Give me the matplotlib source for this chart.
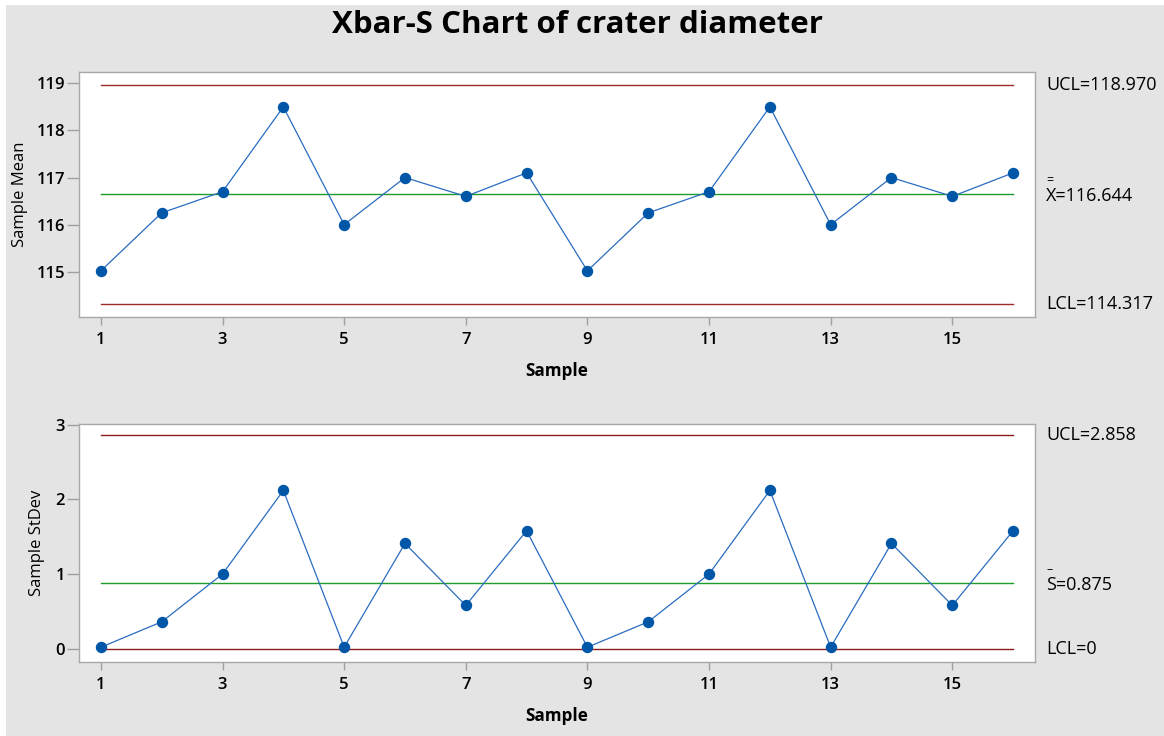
import matplotlib
matplotlib.use("Agg")
import matplotlib.pyplot as plt
from matplotlib.patches import Rectangle

samples = list(range(1, 17))
means = [115.02, 116.25, 116.7, 118.5, 116.0, 117.0, 116.6, 117.1,
         115.02, 116.25, 116.7, 118.5, 116.0, 117.0, 116.6, 117.1]
stdevs = [0.02, 0.36, 1.0, 2.12, 0.02, 1.41, 0.58, 1.58,
          0.02, 0.36, 1.0, 2.12, 0.02, 1.41, 0.58, 1.58]
mean_ucl, mean_cl, mean_lcl = 118.970, 116.644, 114.317
sd_ucl, sd_cl, sd_lcl = 2.858, 0.875, 0.0
xticks = [1, 3, 5, 7, 9, 11, 13, 15]
title = "Xbar-S Chart of crater diameter"

plt.rcParams['font.family'] = ['Open Sans', 'DejaVu Sans']

W, H = 1164, 736
fig = plt.figure(figsize=(W / 100, H / 100), dpi=100)
fig.patch.set_facecolor('white')
fig.patches.append(Rectangle((6 / W, 0), 1, 1 - 5 / H, transform=fig.transFigure,
                             facecolor='#e4e4e4', edgecolor='none', zorder=-10))

def fx(px):
    return px / W

def fy(py):
    return 1 - py / H

ax1 = fig.add_axes([fx(79), fy(317), fx(1035) - fx(79), fy(72) - fy(317)])
ax2 = fig.add_axes([fx(79), fy(662), fx(1035) - fx(79), fy(424) - fy(662)])

fig.text(fx(577.5), fy(25), title, ha='center', va='center', fontsize=22.5, fontweight='bold')

line_blue = '#2a6cc0'
mark_blue = '#0057a8'
red = '#9e2a2a'
green = '#1e9b2a'

def style(ax, ylim, yticks, ylabel, ylabel_x):
    ax.set_facecolor('white')
    for s in ax.spines.values():
        s.set_color('#a8a8a8')
        s.set_linewidth(1.0)
    ax.set_xlim(0.64, 16.36)
    ax.set_ylim(*ylim)
    ax.set_xticks(xticks)
    ax.set_yticks(yticks)
    ax.tick_params(axis='x', colors='#a0a0a0', length=6, width=1, pad=5,
                   labelcolor='black', labelsize=12)
    ax.tick_params(axis='y', colors='#a0a0a0', length=9, width=1, pad=1,
                   labelcolor='black', labelsize=12)
    for lab in ax.get_xticklabels() + ax.get_yticklabels():
        lab.set_fontweight('semibold')
    ax.set_xlabel('Sample', fontsize=12.3, fontweight='bold', labelpad=10)
    ax.set_ylabel(ylabel, fontsize=12)
    ax.yaxis.set_label_coords(ylabel_x, 0.5)

style(ax1, (114.04, 119.24), [115, 116, 117, 118, 119], 'Sample Mean', (28 - 79) / 956)
style(ax2, (-0.178, 3.01), [0, 1, 2, 3], 'Sample StDev', (45 - 79) / 956)

for ax, vals, ucl, cl, lcl, ucl_col in [
        (ax1, means, mean_ucl, mean_cl, mean_lcl, red),
        (ax2, stdevs, sd_ucl, sd_cl, sd_lcl, '#8b1a1a')]:
    ax.plot([samples[0], samples[-1]], [ucl, ucl], color=ucl_col, lw=1.0, zorder=2)
    ax.plot([samples[0], samples[-1]], [lcl, lcl], color=ucl_col, lw=1.0, zorder=2)
    ax.plot([samples[0], samples[-1]], [cl, cl], color=green, lw=1.0, zorder=2)
    ax.plot(samples, vals, color=line_blue, lw=0.9, zorder=3)
    ax.plot(samples, vals, ls='none', marker='o', ms=7.2, color=mark_blue,
            markeredgecolor=mark_blue, zorder=4, clip_on=False)

tx = (1046 - 79) / 956
tr1 = ax1.get_yaxis_transform()
tr2 = ax2.get_yaxis_transform()
fs = 13
ax1.text(tx, mean_ucl, f'UCL={mean_ucl:.3f}', transform=tr1, va='center', ha='left', fontsize=fs)
ax1.text(tx, mean_cl - 2 / 47.1, f'X={mean_cl:.3f}', transform=tr1, va='center', ha='left', fontsize=fs)
ax1.text(tx, mean_cl + 14 / 47.1, '=', transform=tr1, va='center', ha='left', fontsize=9)
ax1.text(tx, mean_lcl, f'LCL={mean_lcl:.3f}', transform=tr1, va='center', ha='left', fontsize=fs)
ax2.text(tx, sd_ucl, f'UCL={sd_ucl:.3f}', transform=tr2, va='center', ha='left', fontsize=fs)
ax2.text(tx, sd_cl - 2 / 74.5, f'S={sd_cl:.3f}', transform=tr2, va='center', ha='left', fontsize=fs)
ax2.text(tx + 0.001, sd_cl + 14 / 74.5, '–', transform=tr2, va='center', ha='left', fontsize=9)
ax2.text(tx, sd_lcl, 'LCL=0', transform=tr2, va='center', ha='left', fontsize=fs)

fig.savefig('out.png', dpi=100, facecolor=fig.get_facecolor())
